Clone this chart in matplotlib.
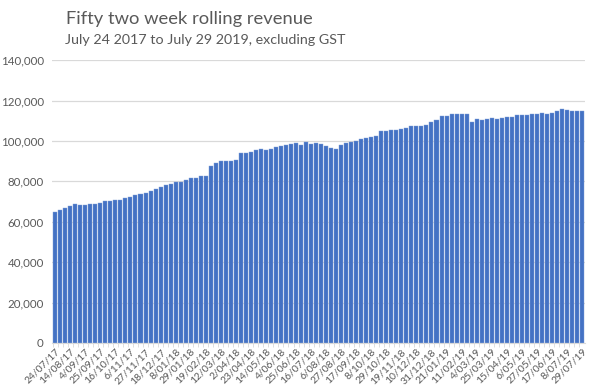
import matplotlib
matplotlib.use("Agg")
import matplotlib.pyplot as plt
import numpy as np
import pandas as pd
from matplotlib.ticker import FuncFormatter

# weekly dates (categories), every third one is labelled
weeks = pd.date_range("2017-07-24", "2019-07-29", freq="7D")
week_labels = [f"{d.day}/{d.month:02d}/{d.year % 100:02d}" for d in weeks]

revenue = [
    64650, 65640, 66630, 67770, 68600, 68270, 68270, 68760, 68760, 69420,
    70400, 70400, 70740, 70570, 71890, 72230, 73220, 73550, 74200, 75200,
    76020, 77170, 78000, 78660, 79650, 79650, 80640, 81470, 81470, 82790,
    82790, 87730, 88890, 90040, 90040, 90040, 90530, 94000, 94140, 94630,
    95300, 95800, 95700, 95970, 97120, 97290, 98120, 98280, 98780, 98120,
    99440, 98280, 98780, 98280, 97290, 96300, 95970, 97950, 98780, 99440,
    100100, 100920, 101250, 102080, 102570, 105040, 104870, 105540, 105200, 105870,
    106530, 107190, 107520, 107350, 107850, 109180, 110170, 112300, 112300, 113140,
    113300, 113460, 113300, 109400, 110800, 110320, 110650, 111150, 110800, 111300,
    111800, 111800, 112640, 112640, 112640, 113300, 113130, 113630, 113300, 113630,
    114770, 115600, 115430, 114620, 114620, 114620,
]

title = "Fifty two week rolling revenue"
subtitle = "July 24 2017 to July 29 2019, excluding GST"

plt.rcParams["font.family"] = ["Lato", "DejaVu Sans"]
text_grey = "#595959"

fig = plt.figure(figsize=(6.0, 3.91), dpi=100)
ax = fig.add_axes([0.087, 0.123, 0.888, 0.723])

x = np.arange(len(revenue))
ax.bar(x, revenue, width=0.8, color="#4472C4", edgecolor="#7f9fd8", linewidth=0.3, zorder=2)

ax.set_ylim(0, 140000)
ax.set_xlim(-0.6, len(revenue) - 0.4)
ax.set_yticks(np.arange(0, 140001, 20000))
ax.yaxis.set_major_formatter(FuncFormatter(lambda v, p: f"{int(v):,}"))
ax.grid(axis="y", color="#d9d9d9", linewidth=0.9, zorder=0)

ax.set_xticks(x[::3])
ax.set_xticklabels(week_labels[::3], rotation=45, ha="right", rotation_mode="anchor")
ax.set_xticks(x - 0.5, minor=True)

ax.tick_params(axis="y", length=0, labelsize=8.3, labelcolor=text_grey, pad=6)
ax.tick_params(axis="x", which="both", length=3, color="#d9d9d9", labelsize=7.5, labelcolor=text_grey, pad=3)
ax.tick_params(axis="x", which="major", length=0)

for side in ["top", "right", "left"]:
    ax.spines[side].set_visible(False)
ax.spines["bottom"].set_color("#d9d9d9")

fig.text(0.11, 0.952, title, fontsize=13.2, color=text_grey, va="center")
fig.text(0.108, 0.898, subtitle, fontsize=10.3, color=text_grey, va="center")

fig.savefig("out.png", dpi=100)
